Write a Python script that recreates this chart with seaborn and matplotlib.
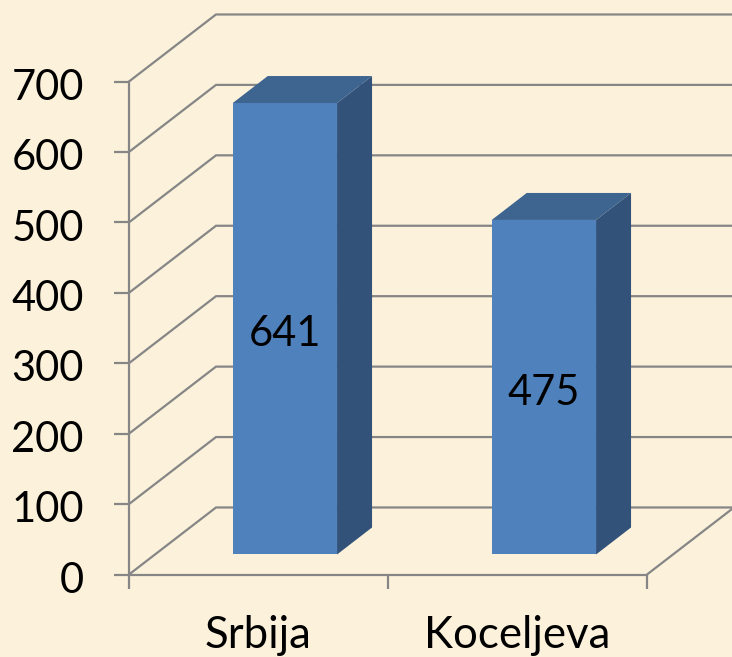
import matplotlib
matplotlib.use("Agg")
import matplotlib.pyplot as plt
from matplotlib.patches import Polygon
from matplotlib.transforms import ScaledTranslation
import pandas as pd
import seaborn as sns

places = ["Srbija", "Koceljeva"]
counts = [641, 475]
y_ticks = [0, 100, 200, 300, 400, 500, 600, 700]

BG = "#fcf2dc"
GREY = "#868686"
FRONT = "#4f81bd"
SIDE = "#325279"
TOP = "#3e6490"

sns.set_theme(style="white")
plt.rcParams["font.family"] = ["Lato", "DejaVu Sans"]

fig = plt.figure(figsize=(7.32, 6.57), dpi=100, facecolor=BG)
# axes box is the front plane of the fake 3d chart
ax = fig.add_axes([129 / 732, (657 - 574.5) / 657, 518 / 732, 493 / 657], facecolor="none")

df = pd.DataFrame({"place": places, "count": counts})

px_x = 1 / 259  # data units per pixel
px_y = 1 / 0.704
wall_dx, wall_dy = 87 * px_x, 67 * px_y
bar_dx, bar_dy = 26.4 * px_x, 20 * px_y
side_dx, side_dy = 35 * px_x, 27 * px_y

sns.barplot(data=df, x="place", y="count", width=104.3 * px_x, color=FRONT, saturation=1,
            bottom=bar_dy, ax=ax, zorder=3, linewidth=0)
ax.set_xlim(-0.5, 1.5)
ax.set_ylim(0, 700)
ax.set_xlabel("")
ax.set_ylabel("")

# walls and gridlines
for v in y_ticks:
    ax.plot([-0.5, -0.5 + wall_dx, 1.5 + wall_dx], [v, v + wall_dy, v + wall_dy],
            color=GREY, lw=1.6, clip_on=False, zorder=1, solid_joinstyle="miter")
ax.plot([1.5, 1.5 + wall_dx], [0, wall_dy], color=GREY, lw=1.6, clip_on=False, zorder=1)

# side and top faces of the bars
for bar in ax.patches[:2]:
    bar.set_x(bar.get_x() + bar_dx)
    bar.set_clip_on(False)
    x0, x1 = bar.get_x(), bar.get_x() + bar.get_width()
    y0, y1 = bar.get_y(), bar.get_y() + bar.get_height()
    ax.add_patch(Polygon([(x1, y0), (x1 + side_dx, y0 + side_dy), (x1 + side_dx, y1 + side_dy), (x1, y1)],
                         facecolor=SIDE, edgecolor="none", clip_on=False, zorder=3))
    ax.add_patch(Polygon([(x0, y1), (x0 + side_dx, y1 + side_dy), (x1 + side_dx, y1 + side_dy), (x1, y1)],
                         facecolor=TOP, edgecolor="none", clip_on=False, zorder=3))

bar_texts = ax.bar_label(ax.containers[0], labels=[str(c) for c in counts], label_type="center",
                         fontsize=30, color="black", zorder=4)
for t in bar_texts:
    t.xyann = (0, -4)

sns.despine(ax=ax, top=True, right=True)
for side in ["left", "bottom"]:
    ax.spines[side].set_color(GREY)
    ax.spines[side].set_linewidth(1.6)
    ax.spines[side].set_zorder(2)

ax.set_yticks(y_ticks)
ax.tick_params(axis="y", length=10.5, width=1.6, color=GREY, pad=22, labelsize=30, labelcolor="black", left=True)
ax.set_xticks([0, 1], places)
ax.tick_params(axis="x", which="major", length=0, pad=29.5, labelsize=31.5, labelcolor="black")
ax.set_xticks([-0.5, 0.5, 1.5], minor=True)
ax.tick_params(axis="x", which="minor", length=10, width=1.6, color=GREY, bottom=True)

# digits sit a little below the tick in the reference
shift = ScaledTranslation(0, -2 / 72, fig.dpi_scale_trans)
for lab in ax.get_yticklabels():
    lab.set_transform(lab.get_transform() + shift)

fig.savefig("out.png", dpi=100, facecolor=BG)
